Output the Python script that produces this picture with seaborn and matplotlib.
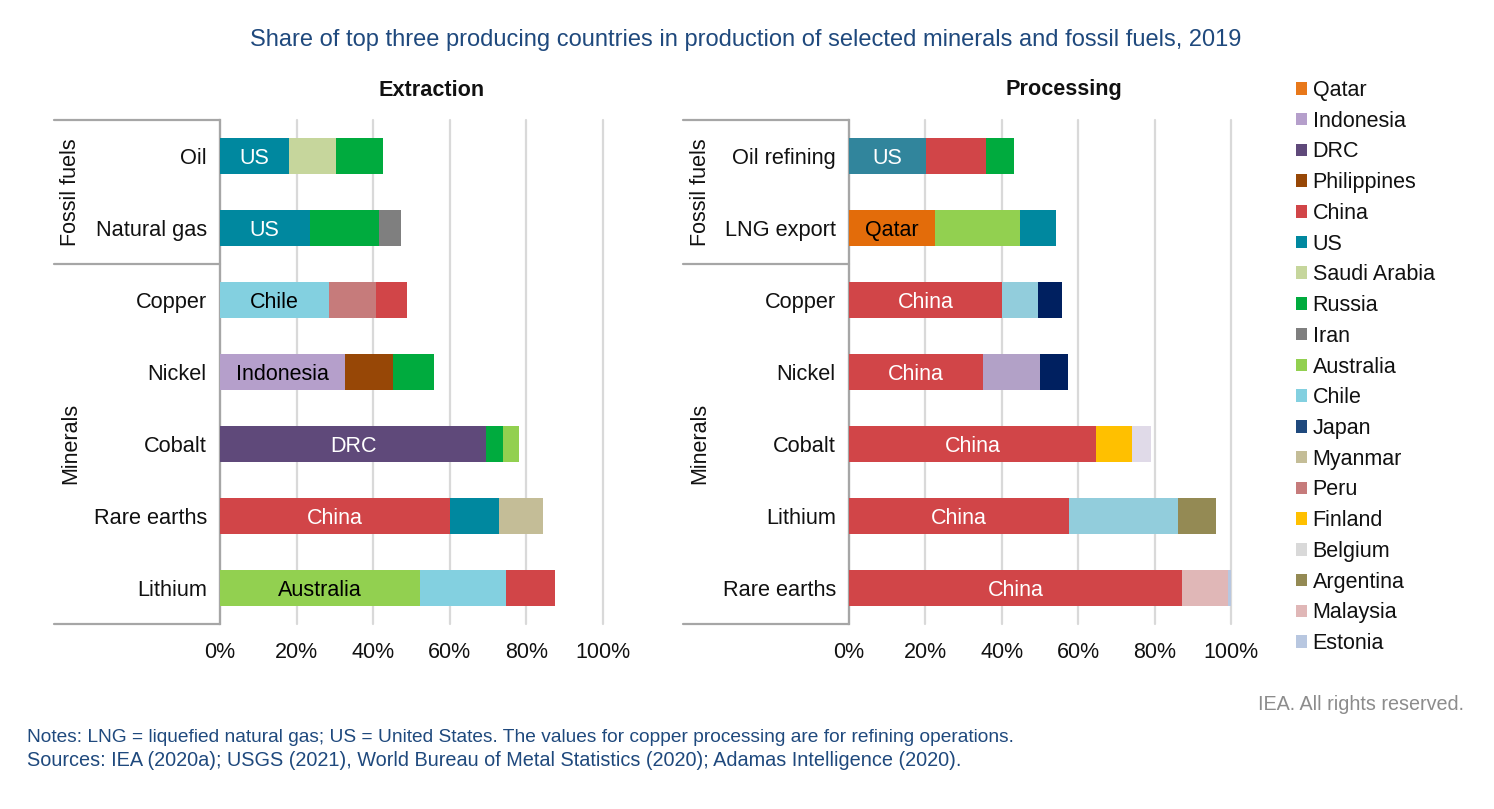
import matplotlib
matplotlib.use("Agg")
import matplotlib.pyplot as plt
from matplotlib.patches import Patch
import seaborn as sns

sns.set_theme(style="white")
plt.rcParams["font.family"] = ["Liberation Sans", "DejaVu Sans"]

W, H = 1494, 809

extraction_items = ["Oil", "Natural gas", "Copper", "Nickel", "Cobalt", "Rare earths", "Lithium"]
extraction_countries = [
    ["US", "Saudi Arabia", "Russia"],
    ["US", "Russia", "Iran"],
    ["Chile", "Peru", "China"],
    ["Indonesia", "Philippines", "Russia"],
    ["DRC", "Russia", "Australia"],
    ["China", "US", "Myanmar"],
    ["Australia", "Chile", "China"],
]
extraction_shares = [
    [18.0, 12.4, 12.1],
    [23.4, 18.1, 5.8],
    [28.5, 12.2, 8.1],
    [32.6, 12.6, 10.7],
    [69.5, 4.4, 4.1],
    [60.0, 12.8, 11.5],
    [52.2, 22.5, 12.8],
]

processing_items = ["Oil refining", "LNG export", "Copper", "Nickel", "Cobalt", "Lithium", "Rare earths"]
processing_countries = [
    ["US", "China", "Russia"],
    ["Qatar", "Australia", "US"],
    ["China", "Chile", "Japan"],
    ["China", "Indonesia", "Japan"],
    ["China", "Finland", "Belgium"],
    ["China", "Chile", "Argentina"],
    ["China", "Malaysia", "Estonia"],
]
processing_shares = [
    [20.1, 15.8, 7.3],
    [22.5, 22.3, 9.4],
    [40.0, 9.5, 6.3],
    [35.0, 15.0, 7.3],
    [64.7, 9.4, 4.9],
    [57.6, 28.5, 9.9],
    [87.2, 12.0, 0.8],
]

legend_order = ["Qatar", "Indonesia", "DRC", "Philippines", "China", "US", "Saudi Arabia", "Russia", "Iran",
                "Australia", "Chile", "Japan", "Myanmar", "Peru", "Finland", "Belgium", "Argentina", "Malaysia", "Estonia"]

colors = {
    "Qatar": "#E8781A", "Indonesia": "#B59FCB", "DRC": "#5F497A", "Philippines": "#974706",
    "China": "#D14548", "US": "#00889F", "Saudi Arabia": "#C6D69C", "Russia": "#00AB3E",
    "Iran": "#7F7F7F", "Australia": "#92D050", "Chile": "#83D0E0", "Japan": "#1F497D",
    "Myanmar": "#C4BD97", "Peru": "#C67B7B", "Finland": "#FFC000", "Belgium": "#D9D9D9",
    "Argentina": "#948A54", "Malaysia": "#E0B7B7", "Estonia": "#B8C7E0",
}
# the processing panel uses slightly different shades
processing_colors = {("Oil refining", "US"): "#31859C", ("Copper", "Chile"): "#92CDDC", ("Lithium", "Chile"): "#92CDDC",
                     ("Copper", "Japan"): "#002060", ("Nickel", "Japan"): "#002060",
                     ("Nickel", "Indonesia"): "#B2A1C7", ("Cobalt", "Belgium"): "#E0DAE8",
                     ("LNG export", "Qatar"): "#E36C0A"}
white_labels = ["US", "DRC", "China"]

navy = "#1F497D"
spine_grey = "#A6A6A6"


def panel(ax, items, countries, shares, overrides):
    for item, names, vals in zip(items, countries, shares):
        left = 0
        for i, (name, val) in enumerate(zip(names, vals)):
            col = overrides.get((item, name), colors[name])
            sns.barplot(x=[val], y=[item], order=items, orient="h", color=col, saturation=1,
                        width=0.51, left=left, ax=ax, zorder=3, linewidth=0)
            if i == 0:
                labs = ax.bar_label(ax.containers[-1], labels=[name], label_type="center", fontsize=15.5,
                                    color="white" if name in white_labels else "black")
                for t in labs:
                    t.set_va("center_baseline")
            left += val

    ax.set_xlim(0, 100)
    ax.set_ylim(6.5, -0.5)
    ax.set_xticks(range(0, 101, 20))
    ax.set_xticklabels([f"{v}%" for v in range(0, 101, 20)])
    ax.set_xlabel("")
    ax.set_ylabel("")
    ax.grid(False)
    ax.grid(axis="x", color="#D9D9D9", linewidth=1.6, zorder=0, clip_on=False)
    ax.set_axisbelow(True)
    ax.tick_params(axis="x", length=0, pad=13, labelsize=15.5, labelcolor="#111111")
    ax.tick_params(axis="y", length=0, pad=9.5, labelsize=15.7, labelcolor="#111111")
    for s in ["top", "right", "bottom"]:
        ax.spines[s].set_visible(False)
    ax.spines["left"].set_color(spine_grey)
    ax.spines["left"].set_linewidth(1.6)

    # multi-level category brackets
    trans = ax.get_yaxis_transform()
    for y in [-0.5, 1.5, 6.5]:
        ax.plot([-0.434, 0], [y, y], transform=trans, color=spine_grey, lw=1.6, clip_on=False, zorder=4)
    ax.text(-0.39, 0.5, "Fossil fuels", transform=trans, rotation=90, ha="center", va="center",
            fontsize=15.5, color="#111111")
    ax.text(-0.39, 3.99, "Minerals", transform=trans, rotation=90, ha="center", va="center",
            fontsize=15.5, color="#111111")


fig = plt.figure(figsize=(W / 100, H / 100), dpi=100)
top, bottom = 120, 624
ax1 = fig.add_axes([220 / W, 1 - bottom / H, 383 / W, (bottom - top) / H])
ax2 = fig.add_axes([849 / W, 1 - bottom / H, 382 / W, (bottom - top) / H])
panel(ax1, extraction_items, extraction_countries, extraction_shares, {})
panel(ax2, processing_items, processing_countries, processing_shares, processing_colors)

fig.text(746 / W, 1 - 40 / H, "Share of top three producing countries in production of selected minerals and fossil fuels, 2019",
         ha="center", va="center", fontsize=17, color=navy)
fig.text(432 / W, 1 - 90 / H, "Extraction", ha="center", va="center", fontsize=15.6, fontweight="bold", color="#111111")
fig.text(1064 / W, 1 - 90 / H, "Processing", ha="center", va="center", fontsize=15.6, fontweight="bold", color="#111111")
fig.text(1464 / W, 1 - 704 / H, "IEA. All rights reserved.", ha="right", va="center", fontsize=14.2, color="#8C8C8C")
fig.text(27 / W, 1 - 738 / H, "Notes: LNG = liquefied natural gas; US = United States. The values for copper processing are for refining operations.",
         ha="left", va="center", fontsize=13.8, color=navy)
fig.text(27 / W, 1 - 761 / H, "Sources: IEA (2020a); USGS (2021), World Bureau of Metal Statistics (2020); Adamas Intelligence (2020).",
         ha="left", va="center", fontsize=14.3, color=navy)

handles = [Patch(facecolor=colors[c], edgecolor="none", label=c) for c in legend_order]
fig.legend(handles=handles, loc="upper left", bbox_to_anchor=(1296 / W, 1 - 80 / H), frameon=False,
           fontsize=15.5, labelcolor="#111111", handlelength=0.52, handleheight=0.52, handletextpad=0.25,
           labelspacing=0.452, borderpad=0, borderaxespad=0)

fig.savefig("out.png", dpi=100)
